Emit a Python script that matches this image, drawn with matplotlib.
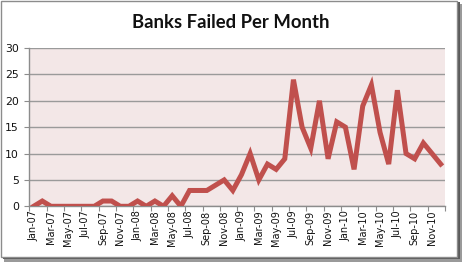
import matplotlib.pyplot as plt
import numpy as np
import pandas as pd
from matplotlib.patches import Rectangle
from matplotlib.ticker import FixedLocator, NullFormatter

TITLE = "Banks Failed Per Month"
MONTHS = list(pd.date_range("2007-01-01", periods=48, freq="MS").strftime("%b-%y"))
FAILED = [
    0, 1, 0, 0, 0, 0, 0, 0, 1, 1, 0, 0,        # 2007
    1, 0, 1, 0, 2, 0, 3, 3, 3, 4, 5, 3,        # 2008
    6, 10, 5, 8, 7, 9, 24, 15, 11, 20, 9, 16,  # 2009
    15, 7, 19, 23, 14, 8, 22, 10, 9, 12, 10, 8,  # 2010
]
Y_TICKS = [0, 5, 10, 15, 20, 25, 30]

W, H = 462, 262


def main() -> None:
    fig = plt.figure(figsize=(W / 100, H / 100), dpi=100)
    fig.patch.set_facecolor("white")

    # drop shadow + chart frame, like the Excel screenshot
    fig.add_artist(Rectangle((4 / W, 0), 458 / W, 1 - 4 / H, transform=fig.transFigure,
                             facecolor="#9a9a9a", edgecolor="none", zorder=-3))
    fig.add_artist(Rectangle((2.5 / W, 1 - 259 / H), 457 / W, 257 / H, transform=fig.transFigure,
                             facecolor="#5a5a5a", edgecolor="none", zorder=-2))
    fig.add_artist(Rectangle((0.5 / W, 1 - 257 / H), 456 / W, 256 / H, transform=fig.transFigure,
                             facecolor="white", edgecolor="#8c8c8c", linewidth=1, zorder=-1))

    ax = fig.add_axes([29.3 / W, 1 - 206.3 / H, (445 - 29.3) / W, (206.3 - 48) / H])
    ax.set_facecolor("#f3e7e7")

    x = np.arange(len(FAILED))
    ax.plot(x, FAILED, color="#c0504d", linewidth=3.6, solid_joinstyle="miter", zorder=3)

    ax.set_xlim(-0.5, len(FAILED) - 0.5)
    ax.set_ylim(0, 30)
    ax.set_yticks(Y_TICKS)
    ax.set_yticklabels([str(v) for v in Y_TICKS], fontsize=7.8, color="#111111")
    ax.yaxis.grid(True, color="#9a9a9a", linewidth=1)
    ax.set_axisbelow(True)

    ax.set_xticks(x[::2])
    ax.set_xticklabels(MONTHS[::2], rotation=90, fontsize=7, color="#111111")
    ax.tick_params(axis="x", which="major", length=0, pad=3)
    ax.xaxis.set_minor_locator(FixedLocator(np.arange(-0.5, len(FAILED), 2)))
    ax.xaxis.set_minor_formatter(NullFormatter())
    ax.tick_params(axis="x", which="minor", length=3.5, color="#8c8c8c", width=0.8)
    ax.tick_params(axis="y", length=3.5, color="#8c8c8c", width=0.8, pad=4)

    for side in ("top", "right"):
        ax.spines[side].set_visible(False)
    for side in ("left", "bottom"):
        ax.spines[side].set_color("#8c8c8c")
        ax.spines[side].set_linewidth(1)

    fig.text(231 / W, 1 - 22 / H, TITLE, ha="center", va="center",
             fontsize=13.3, fontweight="bold", family=["Lato", "DejaVu Sans"], color="#111111")

    fig.savefig("out.png", dpi=100)
    plt.close(fig)


if __name__ == "__main__":
    main()
